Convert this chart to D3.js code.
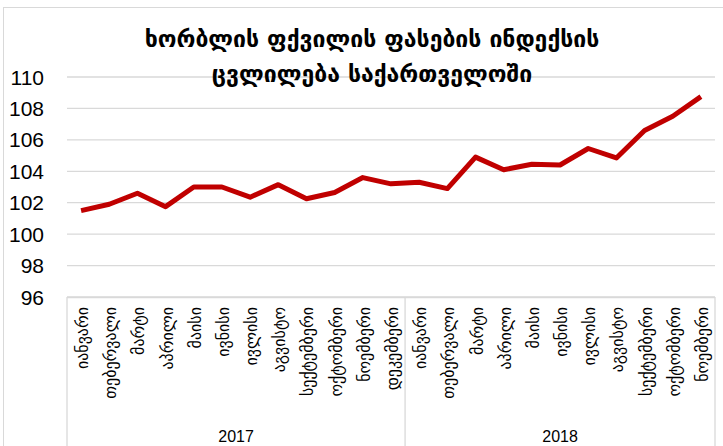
<!DOCTYPE html>
<html lang="ka">
    <head>
        <meta charset="utf-8">
        <title>ხორბლის ფქვილის ფასების ინდექსი</title>
        <script src="https://d3js.org/d3.v7.min.js"></script>
        <style type="text/css">
            body{ margin:0; background:#fff; }
            svg{ display:block; font-family:"DejaVu Sans", "Noto Sans", sans-serif; }
        </style>
    </head>
    <body>
        <svg width="723" height="446"></svg>
        <script type="text/javascript">

            const months = ["იანვარი","თებერვალი","მარტი","აპრილი","მაისი","ივნისი",
                            "ივლისი","აგვისტო","სექტემბერი","ოქტომბერი","ნოემბერი","დეკემბერი"];
            const years = ["2017", "2018"];
            const monthsPerYear = [12, 11];
            const values = [101.5, 101.9, 102.6, 101.75, 103.0, 103.0, 102.35, 103.15, 102.25, 102.65, 103.6, 103.2,
                            103.3, 102.9, 104.9, 104.1, 104.45, 104.4, 105.45, 104.85, 106.6, 107.5, 108.75];
            const yTicks = [96, 98, 100, 102, 104, 106, 108, 110];
            const titleLines = ["ხორბლის ფქვილის ფასების ინდექსის", "ცვლილება საქართველოში"];

            // one row per point: year + month
            const data = [];
            years.forEach((y, yi) => {
                for (let m = 0; m < monthsPerYear[yi]; m++) data.push({key: y + "-" + m, year: y, month: months[m]});
            });
            data.forEach((d, i) => d.value = values[i]);

            const svg = d3.select("svg");
            const plotLeft = 67, plotRight = 715, plotTop = 77, plotBottom = 297;

            svg.append("rect")
                .attr("x", 3.5).attr("y", 7.5)
                .attr("width", 730).attr("height", 450)
                .style("fill", "none").style("stroke", "#d9d9d9");

            const x = d3.scaleBand().domain(data.map(d => d.key)).range([plotLeft, plotRight]);
            const y = d3.scaleLinear().domain([96, 110]).range([plotBottom, plotTop]);

            svg.append("g")
                .selectAll("line")
                .data(yTicks)
                .join("line")
                .attr("x1", plotLeft).attr("x2", plotRight)
                .attr("y1", d => y(d)).attr("y2", d => y(d))
                .style("stroke", "#d9d9d9").style("stroke-width", 1.3);

            svg.append("g")
                .selectAll("text")
                .data(yTicks)
                .join("text")
                .attr("x", 44).attr("y", d => y(d))
                .attr("dy", "0.36em")
                .attr("text-anchor", "end")
                .style("font-family", "'Liberation Sans', sans-serif")
                .style("font-size", "21px")
                .style("fill", "#000")
                .text(d => d);

            // category box (month + year levels)
            const boxBottom = 446;
            svg.append("line")
                .attr("x1", plotLeft).attr("x2", plotRight)
                .attr("y1", plotBottom + 0.5).attr("y2", plotBottom + 0.5)
                .style("stroke", "#d9d9d9").style("stroke-width", 1.3);

            let start = 0;
            const yearSpans = years.map((yr, yi) => {
                const s = {year: yr, x0: x(data[start].key), x1: x(data[start + monthsPerYear[yi] - 1].key) + x.bandwidth()};
                start += monthsPerYear[yi];
                return s;
            });
            const seps = [plotLeft].concat(yearSpans.map(s => s.x1));
            seps[seps.length - 1] = plotRight;
            svg.append("g")
                .selectAll("line")
                .data(seps)
                .join("line")
                .attr("x1", d => d).attr("x2", d => d)
                .attr("y1", plotBottom).attr("y2", boxBottom)
                .style("stroke", "#d9d9d9").style("stroke-width", 1.3);

            svg.append("g")
                .selectAll("text")
                .data(data)
                .join("text")
                .attr("transform", d => `translate(${x(d.key) + x.bandwidth() / 2 + 7},${plotBottom + 10}) rotate(-90)`)
                .attr("text-anchor", "end")
                .style("font-size", "16px")
                .style("fill", "#000")
                .text(d => d.month);

            svg.append("g")
                .selectAll("text")
                .data(yearSpans)
                .join("text")
                .attr("x", d => (d.x0 + d.x1) / 2)
                .attr("y", 442)
                .attr("text-anchor", "middle")
                .style("font-family", "'Liberation Sans', sans-serif")
                .style("font-size", "16px")
                .style("fill", "#000")
                .text(d => d.year);

            const line = d3.line()
                .x(d => x(d.key) + x.bandwidth() / 2)
                .y(d => y(d.value));

            svg.append("path")
                .datum(data)
                .attr("d", line)
                .style("fill", "none")
                .style("stroke", "#c00000")
                .style("stroke-width", 5)
                .style("stroke-linejoin", "round");

            svg.append("g")
                .selectAll("text")
                .data(titleLines)
                .join("text")
                .attr("x", 372)
                .attr("y", (d, i) => 47 + i * 35)
                .attr("text-anchor", "middle")
                .style("font-size", "23px")
                .style("font-weight", "bold")
                .style("fill", "#000")
                .text(d => d);

        </script>
    </body>
</html>
